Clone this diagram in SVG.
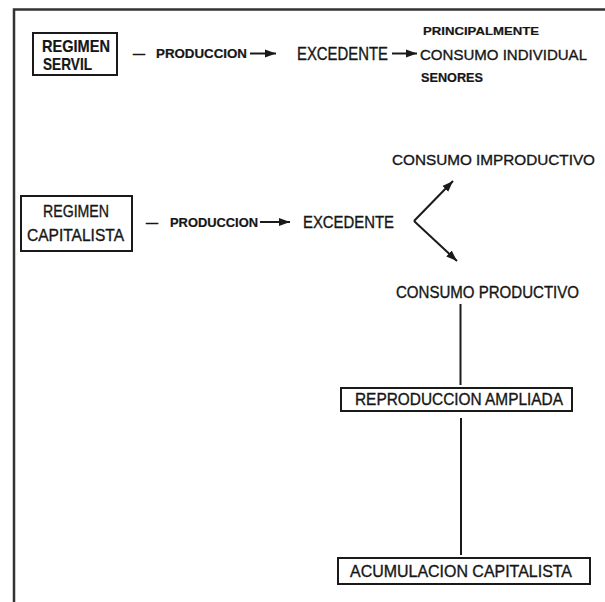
<svg xmlns="http://www.w3.org/2000/svg" width="605" height="602" viewBox="0 0 605 602">
<defs>
<style>
.t{font-family:"Liberation Sans","Arial",sans-serif;fill:#161616;stroke:#161616;stroke-width:0.35}
.b{font-weight:bold;stroke-width:0.2}
.box{fill:none;stroke:#1a1a1a;stroke-width:2}
.ln{stroke:#1a1a1a;stroke-width:2;fill:none}
.frame{stroke:#333;stroke-width:2.5;fill:none}
</style>
<marker id="ah" markerUnits="userSpaceOnUse" markerWidth="13" markerHeight="11" refX="11" refY="5.5" orient="auto">
<path d="M0,1.5 L11,5.5 L0,9.5 Z" fill="#1a1a1a"/>
</marker>
</defs>
<path class="frame" d="M14,602 L14,9.5 L605,9.5"/>
<g id="regimen-servil">
<rect class="box" x="33" y="33" width="84" height="42"/>
<text class="t b" x="42" y="52" font-size="17" textLength="68" lengthAdjust="spacingAndGlyphs">REGIMEN</text>
<text class="t b" x="43" y="70" font-size="16.5" textLength="49" lengthAdjust="spacingAndGlyphs">SERVIL</text>
</g>
<g id="produccion-1">
<text class="t" x="133" y="58" font-size="14" textLength="12" lengthAdjust="spacingAndGlyphs">–</text>
<text class="t b" x="156" y="58" font-size="12" textLength="91" lengthAdjust="spacingAndGlyphs">PRODUCCION</text>
</g>
<g id="excedente-1">
<text class="t" x="297" y="59.5" font-size="17.5" textLength="91" lengthAdjust="spacingAndGlyphs">EXCEDENTE</text>
</g>
<g id="consumo-individual">
<text class="t b" x="423" y="35" font-size="11.5" textLength="116" lengthAdjust="spacingAndGlyphs">PRINCIPALMENTE</text>
<text class="t" x="420" y="59.5" font-size="15.5" textLength="167" lengthAdjust="spacingAndGlyphs">CONSUMO INDIVIDUAL</text>
<text class="t b" x="421" y="82" font-size="12" textLength="62" lengthAdjust="spacingAndGlyphs">SENORES</text>
</g>
<g id="regimen-capitalista">
<rect class="box" x="21" y="196" width="111" height="55"/>
<text class="t" x="43" y="217" font-size="16.5" textLength="66" lengthAdjust="spacingAndGlyphs">REGIMEN</text>
<text class="t" x="27" y="241" font-size="16.5" textLength="97" lengthAdjust="spacingAndGlyphs">CAPITALISTA</text>
</g>
<g id="produccion-2">
<text class="t" x="146" y="227" font-size="14" textLength="12" lengthAdjust="spacingAndGlyphs">–</text>
<text class="t b" x="170" y="226.5" font-size="12" textLength="88" lengthAdjust="spacingAndGlyphs">PRODUCCION</text>
</g>
<g id="excedente-2">
<text class="t" x="303" y="228" font-size="16.5" textLength="91" lengthAdjust="spacingAndGlyphs">EXCEDENTE</text>
</g>
<g id="consumo-improductivo">
<text class="t" x="392" y="165" font-size="15" textLength="203" lengthAdjust="spacingAndGlyphs">CONSUMO IMPRODUCTIVO</text>
</g>
<g id="consumo-productivo">
<text class="t" x="396" y="298" font-size="16" textLength="183" lengthAdjust="spacingAndGlyphs">CONSUMO PRODUCTIVO</text>
</g>
<g id="reproduccion-ampliada">
<rect class="box" x="341" y="388" width="231" height="23"/>
<text class="t" x="355" y="405" font-size="16.5" textLength="208" lengthAdjust="spacingAndGlyphs">REPRODUCCION AMPLIADA</text>
</g>
<g id="acumulacion-capitalista">
<rect class="box" x="338" y="558" width="252" height="26"/>
<text class="t" x="350" y="576.5" font-size="17" textLength="222" lengthAdjust="spacingAndGlyphs">ACUMULACION CAPITALISTA</text>
</g>
<g id="connectors">
<line class="ln" x1="250" y1="53.5" x2="276" y2="53.5" marker-end="url(#ah)"/>
<line class="ln" x1="392" y1="53.5" x2="417" y2="53.5" marker-end="url(#ah)"/>
<line class="ln" x1="260" y1="222" x2="290" y2="222" marker-end="url(#ah)"/>
<line class="ln" x1="414" y1="221" x2="453" y2="181" marker-end="url(#ah)"/>
<line class="ln" x1="414" y1="221" x2="457" y2="261" marker-end="url(#ah)"/>
<line class="ln" x1="460.5" y1="304" x2="460.5" y2="385"/>
<line class="ln" x1="461" y1="418" x2="461" y2="555"/>
</g>
</svg>
